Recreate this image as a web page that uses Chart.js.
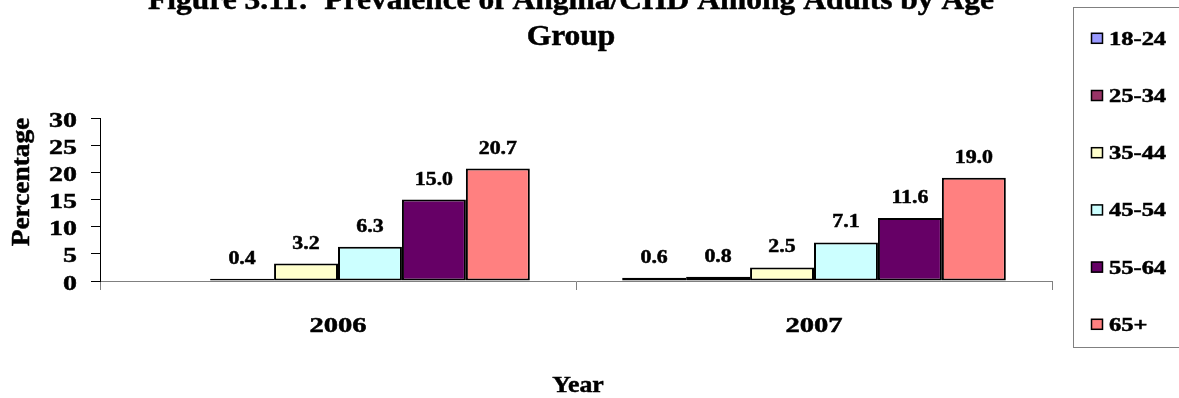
<!DOCTYPE html>
<html>
<head>
<meta charset="utf-8">
<script src="https://cdn.jsdelivr.net/npm/chart.js@4/dist/chart.umd.min.js"></script>
<style>
  html, body { margin: 0; padding: 0; background: #ffffff; }
  #wrap { width: 1179px; height: 398px; position: relative; }
</style>
</head>
<body>
<div id="wrap"><canvas id="chart" width="1179" height="398"></canvas></div>
<script>
// Survey years and age groups
const years = ['2006', '2007'];
const ageGroups = ['18-24', '25-34', '35-44', '45-54', '55-64', '65+'];

// Prevalence (%) per age group, one value per year (null = not reported)
const age18to24 = [null, 0.6];
const age25to34 = [0.4, 0.8];
const age35to44 = [3.2, 2.5];
const age45to54 = [6.3, 7.1];
const age55to64 = [15.0, 11.6];
const age65plus = [20.7, 19.0];

// Value axis ticks
const yTicks = [0, 5, 10, 15, 20, 25, 30];

// Text
const titleLines = ['Figure 3.11:  Prevalence of Angina/CHD Among Adults by Age', 'Group'];
const yTitleText = 'Percentage';
const xTitleText = 'Year';

const seriesValues = [age18to24, age25to34, age35to44, age45to54, age55to64, age65plus];
const fills = ['#9999FF', '#993366', '#FFFFCC', '#CCFFFF', '#660066', '#FF8080'];

const FONT = "'Liberation Serif', 'Times New Roman', serif";

// Heavy, slightly widened bold serif text
function boldText(ctx, text, x, y, size, sx, align, baseline, rotate) {
  ctx.save();
  ctx.translate(x, y);
  if (rotate) ctx.rotate(rotate);
  ctx.scale(sx, 1);
  ctx.font = `bold ${size}px ${FONT}`;
  ctx.textAlign = align;
  ctx.textBaseline = baseline;
  ctx.fillStyle = '#000';
  ctx.strokeStyle = '#000';
  ctx.lineWidth = 0.5;
  ctx.fillText(text, 0, 0);
  ctx.strokeText(text, 0, 0);
  ctx.restore();
}

const datasets = ageGroups.map((g, i) => ({
  label: g,
  data: seriesValues[i],
  backgroundColor: fills[i],
  borderColor: '#000000',
  borderWidth: 2,
  borderSkipped: false,
  categoryPercentage: 0.806,
  barPercentage: 1.0
}));

// Two-line chart title, partly above the top edge
const titlePlugin = {
  id: 'figTitle',
  afterDraw(chart) {
    const ctx = chart.ctx;
    boldText(ctx, titleLines[0], 571, 9, 30, 1.05, 'center', 'alphabetic');
    boldText(ctx, titleLines[1], 571, 45, 30, 1.05, 'center', 'alphabetic');
  }
};

// Axis tick labels and axis titles, placed from the chart scales
const axisText = {
  id: 'axisText',
  afterDraw(chart) {
    const ctx = chart.ctx;
    const xs = chart.scales.x, ys = chart.scales.y;
    ys.ticks.forEach((t, i) => {
      boldText(ctx, String(t.value), 77, ys.getPixelForTick(i) + 8.5, 22, 1.27, 'right', 'alphabetic');
    });
    xs.ticks.forEach((t, i) => {
      boldText(ctx, xs.getLabelForValue(t.value), xs.getPixelForTick(i), 331.5, 22, 1.3, 'center', 'alphabetic');
    });
    const ca = chart.chartArea;
    boldText(ctx, xTitleText, (ca.left + ca.right) / 2 + 2, 392, 23, 1.12, 'center', 'alphabetic');
    boldText(ctx, yTitleText, 22, 182, 26, 1.05, 'center', 'middle', -Math.PI / 2);
  }
};

// Value labels above every bar
const valueLabels = {
  id: 'valueLabels',
  afterDatasetsDraw(chart) {
    const ctx = chart.ctx;
    chart.data.datasets.forEach((ds, di) => {
      const meta = chart.getDatasetMeta(di);
      meta.data.forEach((bar, i) => {
        const v = ds.data[i];
        if (v === null || v === undefined) return;
        boldText(ctx, v.toFixed(1), bar.x, bar.y - 15, 19, 1.15, 'center', 'alphabetic');
      });
    });
  }
};

// Boxed legend on the right, one row per age group
const legendBox = {
  id: 'legendBox',
  afterDraw(chart) {
    const ctx = chart.ctx;
    ctx.save();
    ctx.strokeStyle = '#808080';
    ctx.lineWidth = 1;
    ctx.strokeRect(1073.5, 7.5, 120, 340);
    ctx.restore();
    chart.data.datasets.forEach((ds, i) => {
      const cy = 38.8 + i * 57.2;
      ctx.save();
      ctx.fillStyle = ds.backgroundColor;
      ctx.fillRect(1091, cy - 6, 12, 11);
      ctx.strokeStyle = '#000';
      ctx.lineWidth = 1.5;
      ctx.strokeRect(1091.5, cy - 5.5, 11, 10);
      ctx.restore();
      boldText(ctx, ds.label, 1109, cy + 6, 18, 1.36, 'left', 'alphabetic');
    });
  }
};

new Chart(document.getElementById('chart'), {
  type: 'bar',
  data: { labels: years, datasets },
  options: {
    responsive: false,
    animation: false,
    devicePixelRatio: 1,
    layout: { padding: { top: 118, right: 127, bottom: 0, left: 0 } },
    plugins: { legend: { display: false }, tooltip: { enabled: false }, title: { display: false } },
    scales: {
      x: {
        type: 'category',
        offset: true,
        grid: { display: true, drawOnChartArea: false, drawTicks: true, tickLength: 9, color: '#808080', offset: true },
        border: { display: true, color: '#808080', width: 1 },
        ticks: { display: false },
        title: { display: false, text: xTitleText },
        afterFit(scale) { scale.height = 117; }
      },
      y: {
        min: 0,
        max: 30,
        afterBuildTicks(scale) { scale.ticks = yTicks.map(v => ({ value: v })); },
        grid: { display: true, drawOnChartArea: false, drawTicks: true, tickLength: 9, color: '#000' },
        border: { display: true, color: '#000', width: 1 },
        ticks: { display: false, autoSkip: false },
        title: { display: false, text: yTitleText },
        afterFit(scale) { scale.width = 100; }
      }
    }
  },
  plugins: [titlePlugin, axisText, valueLabels, legendBox]
});
</script>
</body>
</html>
